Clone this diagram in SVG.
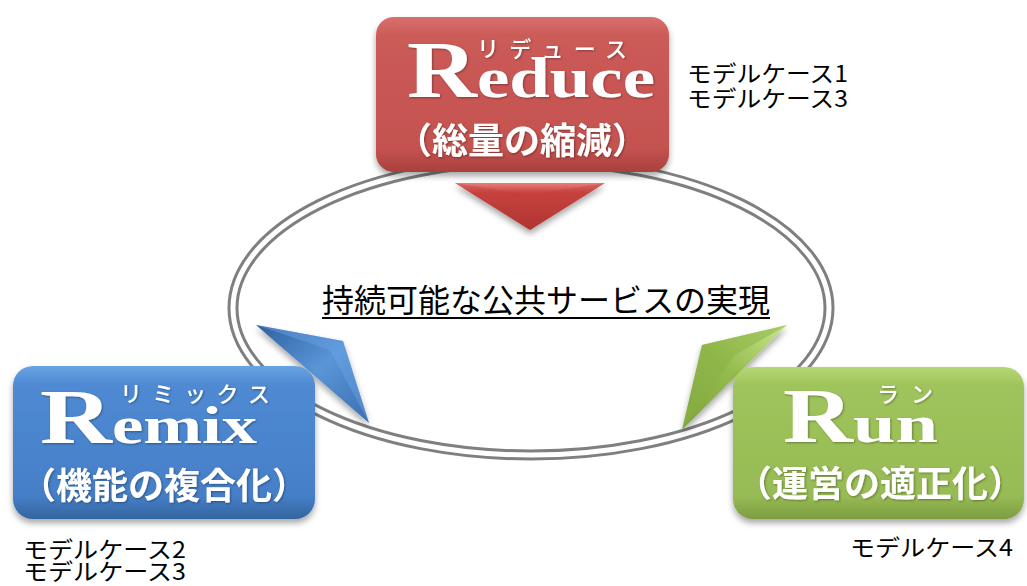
<svg xmlns="http://www.w3.org/2000/svg" width="1027" height="586" viewBox="0 0 1027 586">
<defs>
<linearGradient id="gRed" x1="0" y1="0" x2="0" y2="1">
<stop offset="0" stop-color="#d9706d"/><stop offset="0.12" stop-color="#cb5b58"/><stop offset="0.85" stop-color="#c4524f"/><stop offset="1" stop-color="#a9403d"/>
</linearGradient>
<linearGradient id="gBlue" x1="0" y1="0" x2="0" y2="1">
<stop offset="0" stop-color="#6aa3e4"/><stop offset="0.12" stop-color="#4f8ad3"/><stop offset="0.85" stop-color="#457fc8"/><stop offset="1" stop-color="#33659f"/>
</linearGradient>
<linearGradient id="gGreen" x1="0" y1="0" x2="0" y2="1">
<stop offset="0" stop-color="#b6d774"/><stop offset="0.12" stop-color="#a0c45c"/><stop offset="0.85" stop-color="#97bb55"/><stop offset="1" stop-color="#7d9d40"/>
</linearGradient>
<linearGradient id="aRed" x1="0" y1="0" x2="0" y2="1">
<stop offset="0" stop-color="#e87f7b"/><stop offset="0.2" stop-color="#c84440"/><stop offset="1" stop-color="#a8302c"/>
</linearGradient>
<linearGradient id="aBlue" x1="0" y1="0" x2="1" y2="1">
<stop offset="0" stop-color="#2f5f9e"/><stop offset="0.5" stop-color="#5a96d8"/><stop offset="1" stop-color="#3a6fb0"/>
</linearGradient>
<linearGradient id="aGreen" x1="1" y1="0" x2="0" y2="1">
<stop offset="0" stop-color="#c7e58c"/><stop offset="0.5" stop-color="#94bb4c"/><stop offset="1" stop-color="#7ea23e"/>
</linearGradient>
<filter id="shadow" x="-10%" y="-10%" width="120%" height="130%">
<feDropShadow dx="0" dy="4" stdDeviation="3" flood-color="#000" flood-opacity="0.35"/>
</filter>
<filter id="tshadow" x="-5%" y="-20%" width="110%" height="140%">
<feDropShadow dx="1" dy="1" stdDeviation="0.8" flood-color="#000" flood-opacity="0.35"/>
</filter>
<style>
.box{stroke:none;filter:url(#shadow)}
.rbig{font-family:"Liberation Serif",serif;font-weight:bold;fill:#fff;filter:url(#tshadow)}
.kana{font-family:"Noto Sans CJK JP",sans-serif;font-weight:500;fill:#fff;font-size:22px;filter:url(#tshadow)}
.jp{font-family:"Noto Sans CJK JP",sans-serif;font-weight:bold;fill:#fff;font-size:36px;text-anchor:middle;filter:url(#tshadow)}
.lbl{font-family:"Noto Sans CJK JP",sans-serif;font-size:23px;fill:#000}
.center{font-family:"Noto Sans CJK JP",sans-serif;font-size:32px;fill:#000}
</style>
</defs>
<rect width="1027" height="586" fill="#fff"/>

<g id="node-center">
<ellipse cx="531" cy="308" rx="298" ry="147" fill="none" stroke="#7f7f7f" stroke-width="11"/>
<ellipse cx="531" cy="308" rx="298" ry="147" fill="none" stroke="#fff" stroke-width="5"/>
<text class="center" x="322" y="312" textLength="448" lengthAdjust="spacingAndGlyphs">持続可能な公共サービスの実現</text>
<rect x="322" y="317" width="448" height="2" fill="#000"/>
</g>

<g id="connectors">
<g id="arrow-reduce" filter="url(#shadow)">
<polygon points="455,183 605,183 530,230" fill="url(#aRed)"/>
<polygon points="455,183 530,195 605,183 530,230" fill="#c0403c" opacity="0.35"/>
</g>
<g id="arrow-remix" filter="url(#shadow)">
<polygon points="256,325 343,341 369,423" fill="url(#aBlue)"/>
<polygon points="256,325 343,341 369,423 330,350" fill="#6aa5e6" opacity="0.45"/>
</g>
<g id="arrow-run" filter="url(#shadow)">
<polygon points="787,325 702,345 682,430" fill="url(#aGreen)"/>
<polygon points="787,325 702,345 682,430 735,355" fill="#8ab244" opacity="0.5"/>
</g>
</g>

<g id="node-reduce">
<rect class="box" x="376" y="17" width="293" height="155" rx="18" fill="url(#gRed)"/>
<text class="kana" x="477" y="57" textLength="150" lengthAdjust="spacing">リデュース</text>
<text class="rbig" x="407" y="97" font-size="80" textLength="70" lengthAdjust="spacingAndGlyphs">R</text>
<text class="rbig" x="477" y="97" font-size="56" textLength="178" lengthAdjust="spacingAndGlyphs">educe</text>
<text class="jp" x="522" y="154">（総量の縮減）</text>
</g>

<g id="node-remix">
<rect class="box" x="13" y="366" width="302" height="153" rx="20" fill="url(#gBlue)"/>
<text class="kana" x="120" y="402" textLength="150" lengthAdjust="spacing">リミックス</text>
<text class="rbig" x="40" y="443" font-size="78" textLength="72" lengthAdjust="spacingAndGlyphs">R</text>
<text class="rbig" x="112" y="443" font-size="52" textLength="145" lengthAdjust="spacingAndGlyphs">emix</text>
<text class="jp" x="164" y="499">（機能の複合化）</text>
</g>

<g id="node-run">
<rect class="box" x="733" y="367" width="291" height="152" rx="20" fill="url(#gGreen)"/>
<text class="kana" x="877" y="402" textLength="56" lengthAdjust="spacing">ラン</text>
<text class="rbig" x="783" y="442" font-size="78" textLength="70" lengthAdjust="spacingAndGlyphs">R</text>
<text class="rbig" x="853" y="442" font-size="52" textLength="85" lengthAdjust="spacingAndGlyphs">un</text>
<text class="jp" x="880" y="497">（運営の適正化）</text>
</g>

<g id="labels">
<text class="lbl" x="687" y="82" textLength="161" lengthAdjust="spacingAndGlyphs">モデルケース1</text>
<text class="lbl" x="687" y="107" textLength="161" lengthAdjust="spacingAndGlyphs">モデルケース3</text>
<text class="lbl" x="23" y="558" textLength="163" lengthAdjust="spacingAndGlyphs">モデルケース2</text>
<text class="lbl" x="23" y="580" textLength="163" lengthAdjust="spacingAndGlyphs">モデルケース3</text>
<text class="lbl" x="850" y="556" textLength="163" lengthAdjust="spacingAndGlyphs">モデルケース4</text>
</g>
</svg>
